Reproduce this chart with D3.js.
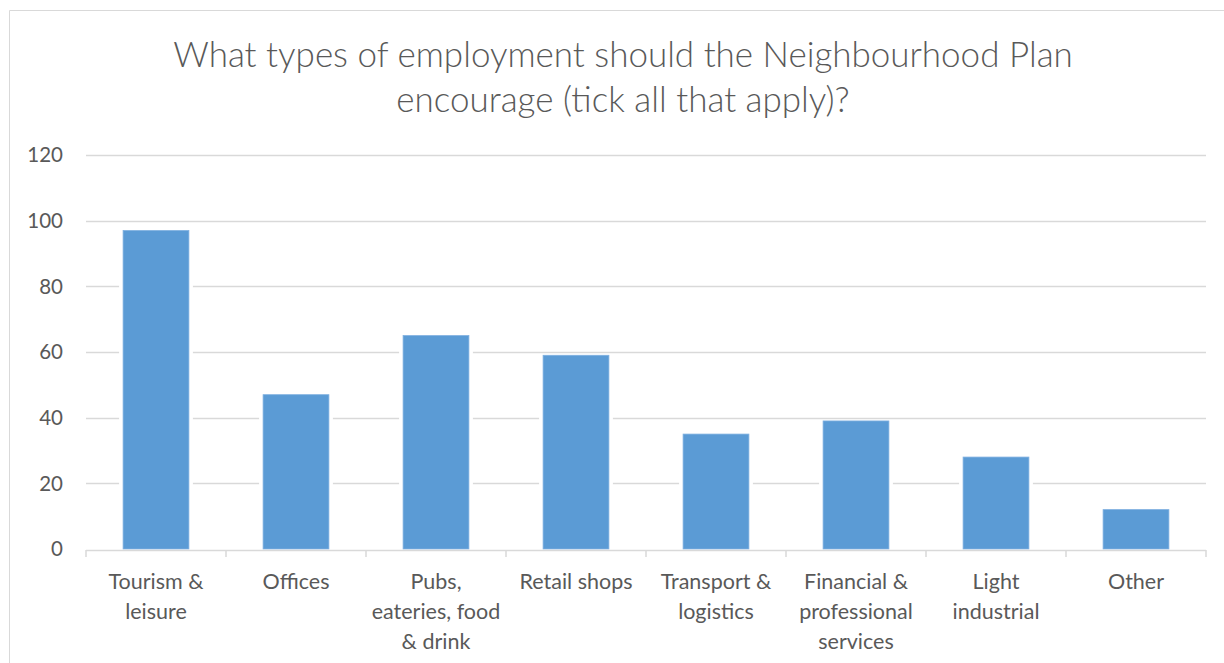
<!DOCTYPE html>
<html><head><meta charset="utf-8">
<script src="https://cdn.jsdelivr.net/npm/d3@7"></script>
<style>body{margin:0;background:#fff}svg{display:block}</style>
</head><body>
<svg id="c" width="1224" height="663"></svg>
<script>
const categories = [["Tourism &","leisure"],["Offices"],["Pubs,","eateries, food","& drink"],["Retail shops"],["Transport &","logistics"],["Financial &","professional","services"],["Light","industrial"],["Other"]];
const values = [97, 47, 65, 59, 35, 39, 28, 12];
const yTicks = [0, 20, 40, 60, 80, 100, 120];
const titleLines = ["What types of employment should the Neighbourhood Plan", "encourage (tick all that apply)?"];

const svg = d3.select("#c");
const font = "Lato, 'Open Sans', sans-serif";
// outer chart border
svg.append("path").attr("d","M9.5,663 V10.5 H1224").attr("fill","none").attr("stroke","#d9d9d9").attr("stroke-width",1);

const x = d3.scaleBand().domain(d3.range(categories.length)).range([86,1206]).paddingInner(0).paddingOuter(0);
const y = d3.scaleLinear().domain([0,120]).range([549,155]);

// gridlines
svg.append("g").selectAll("line").data(yTicks.filter(d=>d>0)).join("line")
  .attr("x1",86).attr("x2",1206).attr("y1",d=>Math.round(y(d))+0.5).attr("y2",d=>Math.round(y(d))+0.5)
  .attr("stroke","#d9d9d9").attr("stroke-width",1.5);

// y labels
svg.append("g").selectAll("text").data(yTicks).join("text")
  .attr("x",63).attr("y",d=>y(d)).attr("dy","0.35em").attr("text-anchor","end")
  .attr("font-family",font).attr("font-size",20.5).attr("fill","#595959").text(d=>d);

const bw = x.bandwidth()*0.47;
const off = (x.bandwidth()-bw)/2;
// white halos
svg.append("g").selectAll("rect").data(values).join("rect")
  .attr("x",(d,i)=>x(i)+off-4).attr("width",bw+8)
  .attr("y",d=>y(d)-1).attr("height",d=>y(0)-y(d)+1).attr("fill","#fff");
svg.append("g").selectAll("rect").data(values).join("rect")
  .attr("x",(d,i)=>x(i)+off).attr("width",bw)
  .attr("y",d=>y(d)).attr("height",d=>y(0)-y(d)).attr("fill","#5b9bd5")
  .attr("stroke","#7fb0e0").attr("stroke-width",0.8);

// x axis
svg.append("line").attr("x1",86).attr("x2",1206).attr("y1",550.5).attr("y2",550.5).attr("stroke","#d9d9d9").attr("stroke-width",1.5);
svg.append("g").selectAll("line").data(d3.range(categories.length+1)).join("line")
  .attr("x1",i=>86+i*x.bandwidth()).attr("x2",i=>86+i*x.bandwidth()).attr("y1",550).attr("y2",557)
  .attr("stroke","#d9d9d9").attr("stroke-width",1.5);

// category labels
const cl = svg.append("g").selectAll("text").data(categories).join("text")
  .attr("x",(d,i)=>x(i)+x.bandwidth()/2).attr("text-anchor","middle")
  .attr("font-family",font).attr("font-size",21.5).attr("fill","#595959");
cl.selectAll("tspan").data(d=>d).join("tspan")
  .attr("x",function(){return this.parentNode.getAttribute("x");})
  .attr("y",(d,j)=>581+j*30).attr("dy","0.35em").text(d=>d);

// title
const t = svg.append("g").selectAll("text").data(titleLines).join("text")
  .attr("x",623).attr("y",(d,i)=>55+i*45).attr("dy","0.35em").attr("text-anchor","middle")
  .attr("font-family",font).attr("font-weight",300).attr("font-size",32).attr("fill","#595959").text(d=>d);
const w0 = t.nodes()[0].getComputedTextLength();
const fs = 32*900/w0;
t.attr("font-size",fs);
</script>
</body></html>
